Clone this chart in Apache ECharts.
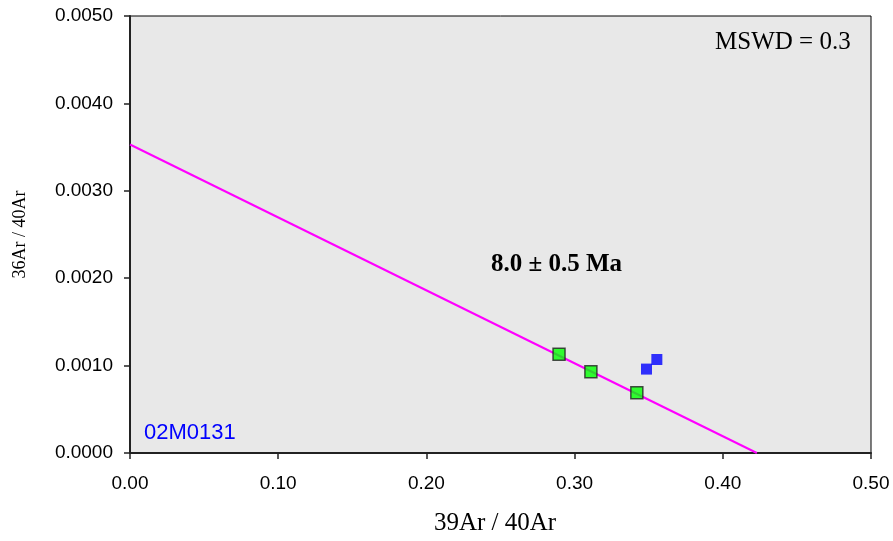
<!DOCTYPE html>
<html><head><meta charset="utf-8">
<script src="https://cdn.jsdelivr.net/npm/echarts@6/dist/echarts.min.js"></script>
<style>html,body{margin:0;padding:0;background:#fff}#c{width:893px;height:541px}</style>
</head><body><div id="c"></div>
<script>
var greenPoints = [[0.2895, 0.00113], [0.311, 0.00093], [0.342, 0.00069]];
var bluePoints = [[0.3485, 0.00096], [0.3555, 0.00107]];
var fitLine = [[0, 0.00353], [0.423, 0]];
var xTicks = [0, 0.1, 0.2, 0.3, 0.4, 0.5];
var yTicks = [0, 0.001, 0.002, 0.003, 0.004, 0.005];

var chart = echarts.init(document.getElementById('c'));
chart.setOption({
  animation: false,
  grid: {left: 130, right: 22, top: 16, bottom: 87, show: true, backgroundColor: '#e8e8e8', borderColor: '#000', borderWidth: 1},
  xAxis: {
    type: 'value', min: xTicks[0], max: xTicks[xTicks.length-1], interval: 0.1,
    name: '39Ar / 40Ar', nameLocation: 'middle', nameGap: 58,
    nameTextStyle: {fontFamily: 'Liberation Serif', fontSize: 25, color: '#000', padding: [0, 11, 0, 0]},
    axisLine: {show: true, lineStyle: {color: '#222', width: 2}},
    axisTick: {show: true, length: 6, lineStyle: {color: '#222', width: 1.5}},
    axisLabel: {fontFamily: 'Liberation Sans', fontSize: 19, color: '#000', margin: 21, formatter: function(v){return v.toFixed(2);}},
    splitLine: {show: false}
  },
  yAxis: {
    type: 'value', min: yTicks[0], max: yTicks[yTicks.length-1], interval: 0.001,
    name: '36Ar / 40Ar', nameLocation: 'middle', nameGap: 101,
    nameTextStyle: {fontFamily: 'Liberation Serif', fontSize: 18, color: '#000'},
    axisLine: {show: true, lineStyle: {color: '#222', width: 2}},
    axisTick: {show: true, length: 6, lineStyle: {color: '#222', width: 1.5}},
    axisLabel: {fontFamily: 'Liberation Sans', fontSize: 19, color: '#000', margin: 17, formatter: function(v){return v.toFixed(4);}},
    splitLine: {show: false}
  },
  series: [
    {type: 'line', data: fitLine, symbol: 'none', lineStyle: {color: '#ff00ff', width: 2}, z: 2},
    {type: 'scatter', data: greenPoints, symbol: 'rect', symbolSize: 12, itemStyle: {color: '#00ff00', borderColor: '#222', borderWidth: 1.5}, z: 3},
    {type: 'scatter', data: bluePoints, symbol: 'rect', symbolSize: 11, itemStyle: {color: '#0000ff'}, z: 3}
  ],
  graphic: [
    {type: 'text', left: 715, top: 30, style: {text: 'MSWD = 0.3', font: '25px "Liberation Serif"', fill: '#000'}},
    {type: 'text', left: 491, top: 252, style: {text: '8.0 ± 0.5 Ma', font: 'bold 25px "Liberation Serif"', fill: '#000'}},
    {type: 'text', left: 144, top: 422, style: {text: '02M0131', font: '22px "Liberation Sans"', fill: '#0000ff'}}
  ]
});
</script></body></html>
